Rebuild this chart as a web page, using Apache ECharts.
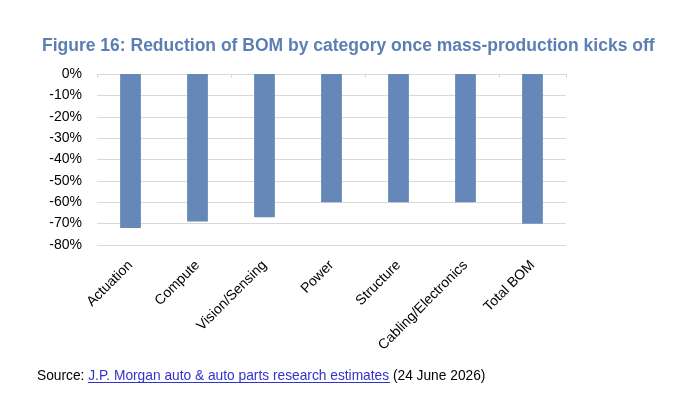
<!DOCTYPE html>
<html><head><meta charset="utf-8">
<script src="https://cdn.jsdelivr.net/npm/echarts@6/dist/echarts.min.js"></script>
<style>html,body{margin:0;padding:0;background:#fff}#c{width:700px;height:406px}</style>
</head><body><div id="c"></div>
<script>
const categories = ['Actuation','Compute','Vision/Sensing','Power','Structure','Cabling/Electronics','Total BOM'];
const reduction = [-72,-69,-67,-60,-60,-60,-70];
const yTicks = {min:-80, max:0, interval:10};

const chart = echarts.init(document.getElementById('c'));
chart.setOption({
  animation:false,
  title:{text:'Figure 16: Reduction of BOM by category once mass-production kicks off',left:37,top:32,
    textStyle:{fontFamily:'Liberation Sans',fontWeight:'bold',fontSize:17.5,color:'#5b7fb3'}},
  grid:{left:97,right:134,top:74,bottom:161},
  xAxis:[{type:'category',data:categories,position:'bottom',
      axisLine:{onZero:true,lineStyle:{color:'#d9d9d9'}},
      axisTick:{show:true,length:4,lineStyle:{color:'#d9d9d9'}},
      axisLabel:{show:false}},
    {type:'category',data:categories,position:'bottom',
      axisLine:{show:false,onZero:false},axisTick:{show:false},
      axisLabel:{rotate:45,margin:18,fontFamily:'Liberation Sans',fontSize:14,color:'#000',interval:0}}],
  yAxis:{type:'value',min:yTicks.min,max:yTicks.max,interval:yTicks.interval,
    axisLine:{show:false},axisTick:{show:false},
    splitLine:{lineStyle:{color:'#d9d9d9'}},
    axisLabel:{formatter:v=>v+'%',fontFamily:'Liberation Sans',fontSize:14,color:'#000',margin:15}},
  series:[{type:'bar',data:reduction,barWidth:'31%',xAxisIndex:0,
    itemStyle:{color:'#6588b9'}}],
  graphic:[
    {type:'text',left:37,top:369,style:{rich:{a:{fontFamily:'Liberation Sans',fontSize:13.75,fill:'#000'},
       b:{fontFamily:'Liberation Sans',fontSize:13.75,fill:'#3333cc'}},
       text:'{a|Source: }{b|J.P. Morgan auto & auto parts research estimates}{a| (24 June 2026)}'}},
    {type:'line',shape:{x1:88,y1:382.5,x2:390,y2:382.5},style:{stroke:'#3333cc',lineWidth:1}}
  ]
});
</script></body></html>
